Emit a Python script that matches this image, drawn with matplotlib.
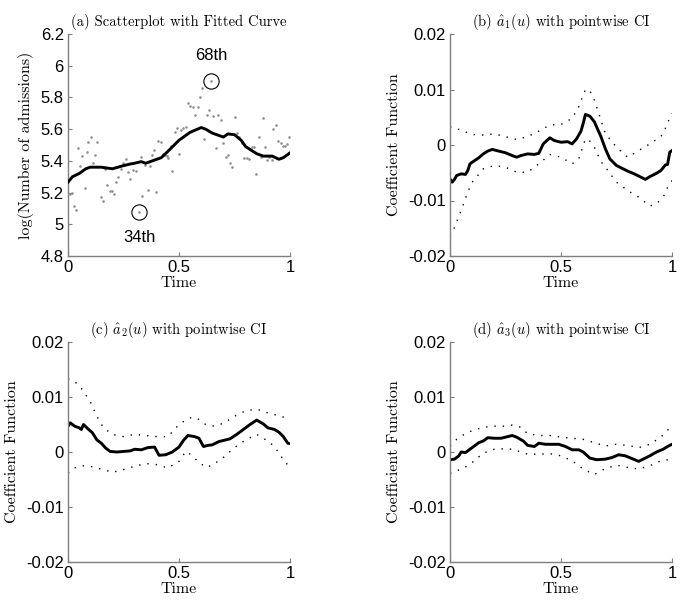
import numpy as np
import matplotlib
matplotlib.use("Agg")
import matplotlib.pyplot as plt

plt.rcParams['mathtext.fontset'] = 'cm'
plt.rcParams['axes.unicode_minus'] = False

# ---------------- data ----------------
scatter_t = [0.011, 0.020, 0.026, 0.038, 0.045, 0.054, 0.065, 0.075, 0.086, 0.092,
             0.102, 0.111, 0.122, 0.131, 0.147, 0.158, 0.168, 0.177, 0.188, 0.200,
             0.207, 0.218, 0.226, 0.238, 0.248, 0.260, 0.270, 0.281, 0.293, 0.308,
             0.320, 0.328, 0.335, 0.346, 0.362, 0.371, 0.377, 0.388, 0.395, 0.406,
             0.417, 0.429, 0.436, 0.444, 0.451, 0.462, 0.469, 0.481, 0.489, 0.500,
             0.511, 0.520, 0.530, 0.541, 0.549, 0.564, 0.574, 0.585, 0.594, 0.603,
             0.612, 0.624, 0.635, 0.645, 0.654, 0.666, 0.677, 0.687, 0.699, 0.710,
             0.719, 0.729, 0.740, 0.753, 0.762, 0.771, 0.782, 0.794, 0.805, 0.817,
             0.827, 0.838, 0.847, 0.862, 0.868, 0.877, 0.887, 0.898, 0.907, 0.917,
             0.925, 0.937, 0.947, 0.958, 0.967, 0.977, 0.988, 0.997]
scatter_v = [5.194, 5.200, 5.115, 5.087, 5.478, 5.367, 5.430, 5.230, 5.456, 5.520,
             5.548, 5.386, 5.440, 5.520, 5.170, 5.147, 5.350, 5.250, 5.210, 5.210,
             5.190, 5.264, 5.300, 5.350, 5.386, 5.410, 5.330, 5.286, 5.345, 5.333,
             5.077, 5.424, 5.180, 5.375, 5.217, 5.367, 5.440, 5.470, 5.205, 5.527,
             5.520, 5.445, 5.440, 5.433, 5.420, 5.495, 5.335, 5.584, 5.605, 5.445,
             5.595, 5.605, 5.616, 5.765, 5.748, 5.740, 5.687, 5.740, 5.800, 5.860,
             5.537, 5.687, 5.720, 5.904, 5.680, 5.478, 5.690, 5.660, 5.514, 5.424,
             5.435, 5.388, 5.360, 5.676, 5.574, 5.550, 5.510, 5.418, 5.418, 5.414,
             5.488, 5.488, 5.318, 5.552, 5.424, 5.670, 5.488, 5.407, 5.424, 5.407,
             5.600, 5.627, 5.527, 5.514, 5.493, 5.493, 5.505, 5.548]

fit_t = [0.0, 0.02, 0.05, 0.08, 0.10, 0.15, 0.20, 0.25, 0.28, 0.30, 0.33, 0.35, 0.38,
         0.40, 0.42, 0.45, 0.50, 0.55, 0.60, 0.62, 0.65, 0.68, 0.70, 0.72, 0.75, 0.78,
         0.80, 0.85, 0.88, 0.92, 0.95, 0.97, 1.0]
fit_v = [5.265, 5.30, 5.32, 5.35, 5.36, 5.36, 5.35, 5.37, 5.38, 5.385, 5.395, 5.385,
         5.40, 5.41, 5.42, 5.46, 5.53, 5.58, 5.61, 5.60, 5.575, 5.56, 5.55, 5.57,
         5.565, 5.53, 5.49, 5.445, 5.43, 5.43, 5.41, 5.42, 5.45]

highlight_idx = [30, 63]          # 34th and 68th observations (0-based in list)
highlight_text = ["34th", "68th"]

# panel (b)
b_t = [0.0, 0.01, 0.02, 0.03, 0.05, 0.07, 0.08, 0.09, 0.10, 0.13, 0.15, 0.17, 0.19,
       0.22, 0.25, 0.28, 0.30, 0.32, 0.35, 0.38, 0.40, 0.42, 0.45, 0.47, 0.50, 0.53,
       0.55, 0.57, 0.59, 0.60, 0.61, 0.63, 0.65, 0.68, 0.70, 0.72, 0.75, 0.78, 0.80,
       0.83, 0.86, 0.88, 0.90, 0.93, 0.95, 0.97, 0.98, 0.99, 1.0]
b_est = [-0.0061, -0.0067, -0.0062, -0.0055, -0.0052, -0.0053, -0.0046, -0.0034,
         -0.0031, -0.0023, -0.0016, -0.0011, -0.0008, -0.0011, -0.0014, -0.0019,
         -0.0022, -0.0019, -0.0016, -0.0017, -0.0015, 0.0002, 0.0013, 0.0008, 0.0005,
         0.0006, 0.0002, 0.0011, 0.0025, 0.0039, 0.0055, 0.0052, 0.0042, 0.0015,
         -0.0007, -0.0025, -0.0037, -0.0043, -0.0047, -0.0052, -0.0058, -0.0062,
         -0.0057, -0.0051, -0.0046, -0.0036, -0.0035, -0.0013, -0.0010]
b_ci_t = [0.0, 0.02, 0.05, 0.08, 0.10, 0.15, 0.20, 0.25, 0.30, 0.35, 0.40, 0.45, 0.50,
          0.55, 0.58, 0.61, 0.63, 0.65, 0.68, 0.70, 0.75, 0.80, 0.85, 0.90, 0.93,
          0.95, 0.97, 0.98, 1.0]
b_up = [0.0033, 0.0030, 0.0027, 0.0022, 0.0019, 0.0018, 0.0020, 0.0015, 0.0010,
        0.0015, 0.0025, 0.0036, 0.0037, 0.0048, 0.0069, 0.0100, 0.0098, 0.0081,
        0.0045, 0.0020, -0.0004, -0.0022, -0.0010, 0.0002, 0.0010, 0.0015, 0.0030,
        0.0040, 0.0057]
b_lo = [-0.0164, -0.0149, -0.0118, -0.0085, -0.0067, -0.0043, -0.0037, -0.0040,
        -0.0049, -0.0049, -0.0034, -0.0017, -0.0022, -0.0034, -0.0025, 0.0011,
        0.0007, -0.0004, -0.0030, -0.0040, -0.0067, -0.0082, -0.0094, -0.0110,
        -0.0106, -0.0098, -0.0088, -0.0076, -0.0064]

# panel (c)
c_t = [0.0, 0.01, 0.02, 0.03, 0.05, 0.06, 0.07, 0.09, 0.11, 0.13, 0.15, 0.17, 0.19,
       0.22, 0.25, 0.28, 0.30, 0.33, 0.36, 0.39, 0.41, 0.44, 0.47, 0.50, 0.52, 0.54,
       0.57, 0.59, 0.61, 0.63, 0.65, 0.68, 0.70, 0.73, 0.76, 0.79, 0.82, 0.85, 0.88,
       0.90, 0.93, 0.95, 0.97, 0.99, 1.0]
c_est = [0.0047, 0.0053, 0.0050, 0.0047, 0.0044, 0.0041, 0.0050, 0.0042, 0.0035,
         0.0022, 0.0016, 0.0007, 0.0001, 0.0000, 0.0001, 0.0002, 0.0005, 0.0004,
         0.0008, 0.0009, -0.0006, -0.0005, 0.0000, 0.0009, 0.0021, 0.0030, 0.0028,
         0.0025, 0.0010, 0.0012, 0.0013, 0.0019, 0.0021, 0.0024, 0.0032, 0.0041,
         0.0050, 0.0058, 0.0051, 0.0044, 0.0041, 0.0036, 0.0028, 0.0016, 0.0015]
c_ci_t = [0.0, 0.03, 0.06, 0.10, 0.13, 0.16, 0.20, 0.25, 0.30, 0.35, 0.40, 0.45, 0.50,
          0.53, 0.55, 0.58, 0.62, 0.65, 0.70, 0.75, 0.80, 0.85, 0.90, 0.93, 0.96, 1.0]
c_up = [0.0133, 0.0128, 0.0116, 0.0092, 0.0065, 0.0044, 0.0032, 0.0028, 0.0032,
        0.0030, 0.0028, 0.0028, 0.0050, 0.0058, 0.0062, 0.0062, 0.0050, 0.0047,
        0.0052, 0.0065, 0.0075, 0.0078, 0.0071, 0.0068, 0.0065, 0.0059]
c_lo = [-0.0038, -0.0029, -0.0025, -0.0026, -0.0029, -0.0032, -0.0037, -0.0032,
        -0.0026, -0.0021, -0.0023, -0.0029, -0.0017, 0.0001, -0.0004, -0.0015,
        -0.0028, -0.0024, -0.0010, 0.0008, 0.0022, 0.0032, 0.0020, 0.0010, -0.0008,
        -0.0029]

# panel (d)
d_t = [0.0, 0.02, 0.04, 0.05, 0.07, 0.10, 0.13, 0.15, 0.17, 0.20, 0.23, 0.26, 0.28,
       0.30, 0.33, 0.35, 0.38, 0.40, 0.43, 0.46, 0.49, 0.52, 0.55, 0.58, 0.60, 0.63,
       0.66, 0.70, 0.73, 0.76, 0.79, 0.82, 0.85, 0.87, 0.90, 0.93, 0.96, 0.98, 1.0]
d_est = [-0.0014, -0.0013, -0.0007, 0.0000, -0.0001, 0.0008, 0.0017, 0.0020, 0.0026,
         0.0025, 0.0025, 0.0028, 0.0030, 0.0027, 0.0020, 0.0012, 0.0010, 0.0016,
         0.0014, 0.0014, 0.0014, 0.0010, 0.0004, 0.0004, 0.0000, -0.0011, -0.0014,
         -0.0013, -0.0010, -0.0005, -0.0007, -0.0012, -0.0017, -0.0013, -0.0007,
         0.0000, 0.0005, 0.0010, 0.0014]
d_ci_t = [0.0, 0.03, 0.06, 0.10, 0.15, 0.20, 0.25, 0.28, 0.32, 0.35, 0.40, 0.45, 0.50,
          0.55, 0.60, 0.65, 0.70, 0.75, 0.80, 0.85, 0.90, 0.95, 1.0]
d_up = [0.0011, 0.0023, 0.0031, 0.0039, 0.0045, 0.0047, 0.0047, 0.0049, 0.0045,
        0.0033, 0.0030, 0.0030, 0.0027, 0.0025, 0.0023, 0.0017, 0.0011, 0.0014,
        0.0012, 0.0008, 0.0014, 0.0027, 0.0048]
d_lo = [-0.0039, -0.0034, -0.0030, -0.0019, -0.0002, 0.0005, 0.0006, 0.0005, 0.0000,
        -0.0004, -0.0004, -0.0003, -0.0007, -0.0016, -0.0031, -0.0041, -0.0030,
        -0.0024, -0.0028, -0.0031, -0.0025, -0.0016, -0.0013]

x_ticks = [0, 0.5, 1]
x_ticklabels = ["0", "0.5", "1"]
a_yticks = [4.8, 5.0, 5.2, 5.4, 5.6, 5.8, 6.0, 6.2]
a_yticklabels = ["4.8", "5", "5.2", "5.4", "5.6", "5.8", "6", "6.2"]
coef_yticks = [-0.02, -0.01, 0, 0.01, 0.02]
coef_yticklabels = ["-0.02", "-0.01", "0", "0.01", "0.02"]

titles = ["(a) Scatterplot with Fitted Curve",
          r"(b) $\hat{a}_1(u)$ with pointwise CI",
          r"(c) $\hat{a}_2(u)$ with pointwise CI",
          r"(d) $\hat{a}_3(u)$ with pointwise CI"]

# ---------------- drawing ----------------
serif = 'cmr10'
sans = 'Liberation Sans'
spine_col = '#7f7f7f'

fig = plt.figure(figsize=(6.83, 6.07), dpi=100)
W, H = 683, 607
def rect(l, t, r, b):
    return [l / W, 1 - b / H, (r - l) / W, (b - t) / H]

ax_a = fig.add_axes(rect(68, 34, 290, 256))
ax_b = fig.add_axes(rect(450, 34, 672, 256))
ax_c = fig.add_axes(rect(68, 342, 290, 562))
ax_d = fig.add_axes(rect(450, 342, 672, 562))

def style(ax, yticks, yticklabels, ylim, ylabel, title):
    ax.set_xlim(0, 1)
    ax.set_ylim(*ylim)
    for s in ['top', 'right']:
        ax.spines[s].set_visible(False)
    for s in ['left', 'bottom']:
        ax.spines[s].set_color(spine_col)
        ax.spines[s].set_linewidth(1.0)
    ax.set_xticks(x_ticks)
    ax.set_xticklabels(x_ticklabels, fontfamily=sans, fontsize=12)
    ax.set_yticks(yticks)
    ax.set_yticklabels(yticklabels, fontfamily=sans, fontsize=12)
    ax.tick_params(direction='in', length=3, color=spine_col, pad=3)
    ax.set_xlabel("Time", fontfamily=serif, fontsize=11.5, labelpad=1)
    ax.set_ylabel(ylabel, fontfamily=serif, fontsize=11.5, labelpad=5)
    ax.set_title(title, fontfamily=serif, fontsize=10.5, pad=6)

# (a)
ax_a.scatter(scatter_t, scatter_v, s=3.5, marker='o', color='#8f8f8f', linewidths=0, zorder=2)
ax_a.plot(fit_t, fit_v, color='black', lw=2.1, zorder=3)
for idx, lab in zip(highlight_idx, highlight_text):
    tx, ty = scatter_t[idx], scatter_v[idx]
    ax_a.plot([tx], [ty], marker='o', markersize=11, markerfacecolor='none',
              markeredgecolor='black', markeredgewidth=0.8, zorder=4)
    off = -18 if ty < 5.3 else 18
    ax_a.annotate(lab, (tx, ty), xytext=(0, off), textcoords='offset points',
                  ha='center', va='center', fontfamily=sans, fontsize=12)
style(ax_a, a_yticks, a_yticklabels, (4.8, 6.2), "log(Number of admissions)", titles[0])

dot_style = dict(color='black', lw=1.0, linestyle=(0, (1, 5)))
for ax, t, est, ct, up, lo, title in [
        (ax_b, b_t, b_est, b_ci_t, b_up, b_lo, titles[1]),
        (ax_c, c_t, c_est, c_ci_t, c_up, c_lo, titles[2]),
        (ax_d, d_t, d_est, d_ci_t, d_up, d_lo, titles[3])]:
    ax.plot(ct, up, **dot_style)
    ax.plot(ct, lo, **dot_style)
    ax.plot(t, est, color='black', lw=2.1)
    style(ax, coef_yticks, coef_yticklabels, (-0.02, 0.02), "Coefficient Function", title)

fig.savefig("out.png", dpi=100)
